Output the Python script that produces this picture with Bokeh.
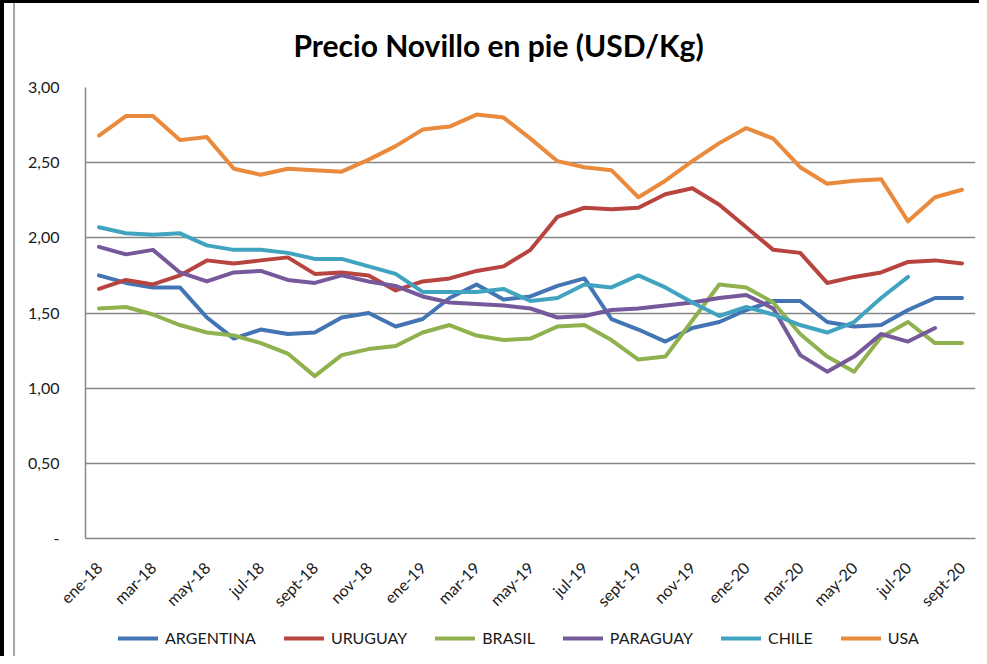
import math
import numpy as np
from bokeh.plotting import figure
from bokeh.layouts import column
from bokeh.models import (ColumnDataSource, FixedTicker, Legend, LegendItem, Range1d)
from bokeh.embed import file_html
from bokeh.resources import INLINE

# ---------------- data ----------------
months = ["ene-18", "feb-18", "mar-18", "abr-18", "may-18", "jun-18", "jul-18", "ago-18",
          "sept-18", "oct-18", "nov-18", "dic-18",
          "ene-19", "feb-19", "mar-19", "abr-19", "may-19", "jun-19", "jul-19", "ago-19",
          "sept-19", "oct-19", "nov-19", "dic-19",
          "ene-20", "feb-20", "mar-20", "abr-20", "may-20", "jun-20", "jul-20", "ago-20",
          "sept-20"]

argentina = [1.75, 1.70, 1.67, 1.67, 1.47, 1.33, 1.39, 1.36, 1.37, 1.47, 1.50,
             1.41, 1.46, 1.60, 1.69, 1.59, 1.61, 1.68, 1.73, 1.46, 1.39, 1.31,
             1.40, 1.44, 1.52, 1.58, 1.58, 1.44, 1.41, 1.42, 1.52, 1.60, 1.60]
uruguay = [1.66, 1.72, 1.69, 1.75, 1.85, 1.83, 1.85, 1.87, 1.76, 1.77, 1.75,
           1.65, 1.71, 1.73, 1.78, 1.81, 1.92, 2.14, 2.20, 2.19, 2.20, 2.29,
           2.33, 2.22, 2.07, 1.92, 1.90, 1.70, 1.74, 1.77, 1.84, 1.85, 1.83]
brasil = [1.53, 1.54, 1.49, 1.42, 1.37, 1.35, 1.30, 1.23, 1.08, 1.22, 1.26,
          1.28, 1.37, 1.42, 1.35, 1.32, 1.33, 1.41, 1.42, 1.32, 1.19, 1.21,
          1.45, 1.69, 1.67, 1.57, 1.36, 1.21, 1.11, 1.34, 1.44, 1.30, 1.30]
paraguay = [1.94, 1.89, 1.92, 1.77, 1.71, 1.77, 1.78, 1.72, 1.70, 1.75, 1.71,
            1.68, 1.61, 1.57, 1.56, 1.55, 1.53, 1.47, 1.48, 1.52, 1.53, 1.55,
            1.57, 1.60, 1.62, 1.53, 1.22, 1.11, 1.21, 1.36, 1.31, 1.40, None]
chile = [2.07, 2.03, 2.02, 2.03, 1.95, 1.92, 1.92, 1.90, 1.86, 1.86, 1.81,
         1.76, 1.64, 1.64, 1.64, 1.66, 1.58, 1.60, 1.69, 1.67, 1.75, 1.67,
         1.57, 1.48, 1.54, 1.49, 1.42, 1.37, 1.44, 1.60, 1.74, None, None]
usa = [2.68, 2.81, 2.81, 2.65, 2.67, 2.46, 2.42, 2.46, 2.45, 2.44, 2.52,
       2.61, 2.72, 2.74, 2.82, 2.80, 2.66, 2.51, 2.47, 2.45, 2.27, 2.38,
       2.51, 2.63, 2.73, 2.66, 2.47, 2.36, 2.38, 2.39, 2.11, 2.27, 2.32]

series_names = ["ARGENTINA", "URUGUAY", "BRASIL", "PARAGUAY", "CHILE", "USA"]
series_values = [argentina, uruguay, brasil, paraguay, chile, usa]
series_colors = ["#4374B3", "#B8443F", "#8FB24F", "#75599B", "#40A3BF", "#E98A3C"]

y_ticks = [0, 0.5, 1.0, 1.5, 2.0, 2.5, 3.0]
y_tick_labels = ["-", "0,50", "1,00", "1,50", "2,00", "2,50", "3,00"]

title_text = "Precio Novillo en pie (USD/Kg)"

# ---------------- main figure ----------------
FONT = "Lato"
W = 979
H1, H2 = 620, 36
ML, MR, MT, MB = 85, 4, 87, 82

p = figure(width=W, height=H1, output_backend="svg", toolbar_location=None,
           x_range=Range1d(-0.5, len(months) - 0.5), y_range=Range1d(0, 3),
           min_border_left=ML, min_border_right=MR, min_border_top=MT,
           min_border_bottom=MB, title=title_text)
p.background_fill_color = "white"
p.border_fill_color = None
p.outline_line_color = None

p.title.text_font = FONT
p.title.text_font_size = "30px"
p.title.text_font_style = "bold"
p.title.text_color = "black"
p.title.align = "left"
p.title.offset = 208
p.title.standoff = 49

x = np.arange(len(months))
for name, vals, col in zip(series_names, series_values, series_colors):
    src = ColumnDataSource(dict(x=x, y=np.array(vals, dtype=float)))
    p.line("x", "y", source=src, line_color=col, line_width=4,
           line_join="round", line_cap="round")

# axes
p.xaxis.ticker = FixedTicker(ticks=list(range(0, len(months), 2)))
p.xaxis.major_label_overrides = {i: months[i] for i in range(0, len(months), 2)}
p.xaxis.major_label_orientation = math.pi / 4
p.xaxis.major_label_text_font = FONT
p.xaxis.major_label_text_font_size = "16px"
p.xaxis.major_label_text_color = "#1a1a1a"
p.xaxis.major_label_standoff = 20
p.xaxis.axis_line_color = "#868686"
p.xaxis.axis_line_width = 1.5
p.xaxis.major_tick_line_color = None
p.xaxis.minor_tick_line_color = None

p.yaxis.ticker = FixedTicker(ticks=y_ticks)
p.yaxis.major_label_overrides = {t: l for t, l in zip(y_ticks, y_tick_labels)}
p.yaxis.major_label_text_font = FONT
p.yaxis.major_label_text_font_size = "16px"
p.yaxis.major_label_text_color = "#1a1a1a"
p.yaxis.major_label_standoff = 20
p.yaxis.axis_line_color = "#868686"
p.yaxis.axis_line_width = 1.5
p.yaxis.major_tick_line_color = None
p.yaxis.minor_tick_line_color = None

p.xgrid.grid_line_color = None
p.ygrid.grid_line_color = "#868686"
p.ygrid.grid_line_width = 1.5

# ---------------- legend strip (own small figure, so it is not clipped) ----------------
pl = figure(width=W, height=H2, output_backend="svg", toolbar_location=None,
            x_range=Range1d(0, 1), y_range=Range1d(0, 1),
            min_border_left=0, min_border_right=0, min_border_top=0, min_border_bottom=0)
pl.axis.visible = False
pl.grid.grid_line_color = None
pl.outline_line_color = None
pl.background_fill_color = None
pl.border_fill_color = None

# swatch renderers: same styles as the series, their points lie outside the strip's range
leg_renderers = []
for name, col in zip(series_names, series_colors):
    leg_renderers.append(pl.line(x=[-10, -9], y=[-10, -10], line_color=col,
                                 line_width=4, line_cap="round"))

legend = Legend(items=[LegendItem(label=n, renderers=[r]) for n, r in zip(series_names, leg_renderers)],
                orientation="horizontal", location=(33, 9),
                glyph_width=40, glyph_height=18, label_standoff=7, spacing=28,
                padding=0, margin=0, border_line_color=None, background_fill_alpha=0,
                label_text_font=FONT, label_text_font_size="16px",
                label_text_color="#1a1a1a")
pl.add_layout(legend)

layout = column(p, pl, spacing=0)
# outer chart frame: black left/top edge and a thin gray inner line
layout.styles = {
    "background-color": "white",
    "box-shadow": "inset 4px 3px 0 0 black, inset 13px 0 0 0 white, inset 15px 0 0 0 #a6a6a6",
}

open("out.html", "w").write(file_html(layout, INLINE))
